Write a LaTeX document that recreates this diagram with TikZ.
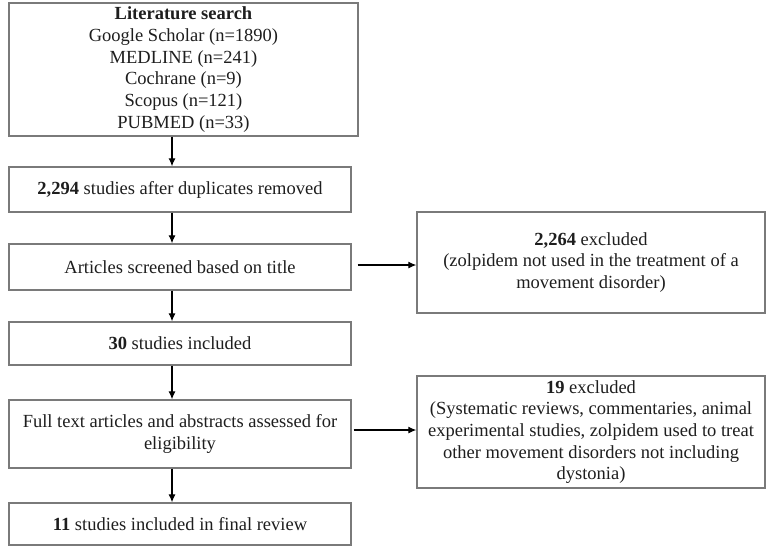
\documentclass[tikz,border=0pt]{standalone}
\usepackage{fontspec}
\setmainfont{Liberation Serif}
\usetikzlibrary{arrows.meta}
\definecolor{boxgray}{HTML}{7A7A7A}
\definecolor{txt}{HTML}{1E1E1E}
\tikzset{
  flowbox/.style={draw=boxgray, line width=1.4pt, fill=white, text=txt, align=center,
    inner sep=0pt, font=\fontsize{18.5pt}{21.7pt}\selectfont},
  flowarrow/.style={draw=black, line width=1.1pt, -{Latex[length=8pt,width=7pt]}}
}
\begin{document}
\begin{tikzpicture}[x=1pt,y=-1pt]
\useasboundingbox (0,0) rectangle (767,550);
\fill[white] (0,0) rectangle (767,550);
\node[flowbox, minimum width=349pt, minimum height=133pt] (search) at (183.5,69.5)
  {\textbf{Literature search}\\Google Scholar (n=1890)\\MEDLINE (n=241)\\Cochrane (n=9)\\Scopus (n=121)\\PUBMED (n=33)};
\node[flowbox, minimum width=342pt, minimum height=45pt] (dup) at (180,189.5)
  {\textbf{2,294} studies after duplicates removed};
\node[flowbox, minimum width=342pt, minimum height=46pt] (screen) at (180,267)
  {Articles screened based on title};
\node[flowbox, minimum width=342pt, minimum height=43pt] (incl) at (180,343.5)
  {\textbf{30} studies included};
\node[flowbox, minimum width=342pt, minimum height=68pt] (full) at (180,434)
  {Full text articles and abstracts assessed for\\eligibility};
\node[flowbox, minimum width=342pt, minimum height=42pt] (final) at (180,524)
  {\textbf{11} studies included in final review};
\node[flowbox, minimum width=348pt, minimum height=101pt] (exc1) at (591,262.5)
  {\textbf{2,264} excluded\\(zolpidem not used in the treatment of a\\movement disorder)};
\node[flowbox, minimum width=348pt, minimum height=112pt] (exc2) at (591,432)
  {\textbf{19} excluded\\(Systematic reviews, commentaries, animal\\experimental studies, zolpidem used to treat\\other movement disorders not including\\dystonia)};
\coordinate (ax) at (172,0);
\draw[flowarrow] (search.south -| ax) -- (dup.north -| ax);
\draw[flowarrow] (dup.south -| ax) -- (screen.north -| ax);
\draw[flowarrow] (screen.south -| ax) -- (incl.north -| ax);
\draw[flowarrow] (incl.south -| ax) -- (full.north -| ax);
\draw[flowarrow] (full.south -| ax) -- (final.north -| ax);
\coordinate (h1) at (0,265);
\coordinate (h2) at (0,430);
\draw[flowarrow] ([xshift=6pt]screen.east |- h1) -- (exc1.west |- h1);
\draw[flowarrow] ([xshift=2pt]full.east |- h2) -- (exc2.west |- h2);
\end{tikzpicture}
\end{document}
